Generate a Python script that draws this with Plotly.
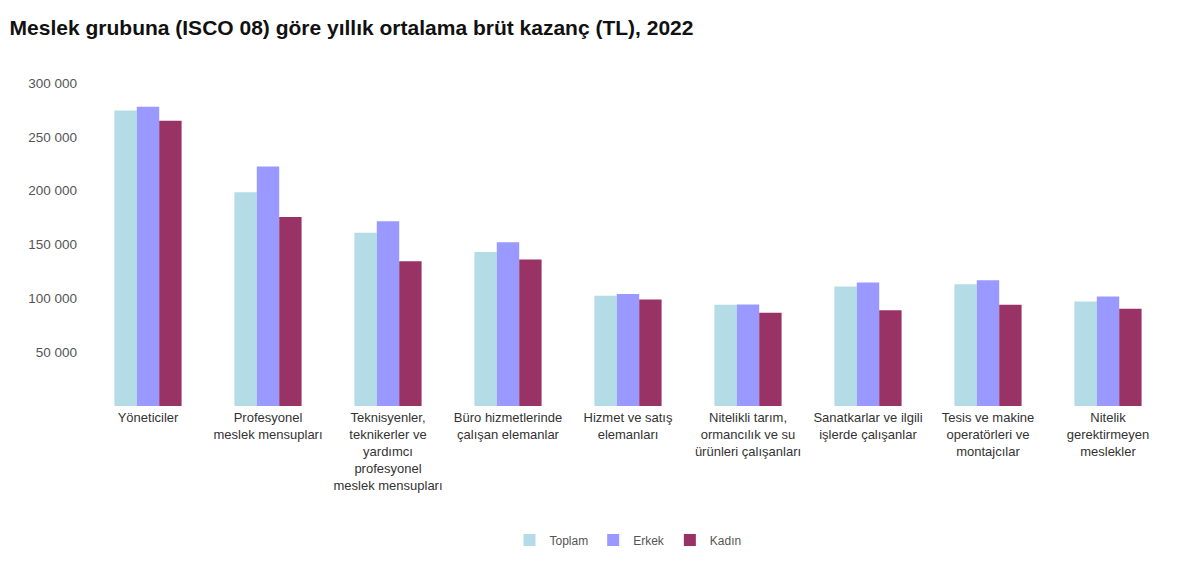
import plotly.graph_objects as go

categories = [
    "Yöneticiler",
    "Profesyonel<br>meslek mensupları",
    "Teknisyenler,<br>teknikerler ve<br>yardımcı<br>profesyonel<br>meslek mensupları",
    "Büro hizmetlerinde<br>çalışan elemanlar",
    "Hizmet ve satış<br>elemanları",
    "Nitelikli tarım,<br>ormancılık ve su<br>ürünleri çalışanları",
    "Sanatkarlar ve ilgili<br>işlerde çalışanlar",
    "Tesis ve makine<br>operatörleri ve<br>montajcılar",
    "Nitelik<br>gerektirmeyen<br>meslekler",
]
toplam = [274500, 198500, 161000, 143000, 102500, 94000, 111000, 113000, 97000]
erkek = [278000, 222500, 171500, 152000, 104000, 94200, 114800, 116700, 101800]
kadin = [265000, 175500, 134500, 136000, 99000, 86700, 88900, 94000, 90400]
series_names = ["Toplam", "Erkek", "Kadın"]
colors = ["#b4dce6", "#9999ff", "#993366"]
ytick_vals = [50000, 100000, 150000, 200000, 250000, 300000]

fig = go.Figure()
for name, vals, col in zip(series_names, [toplam, erkek, kadin], colors):
    fig.add_trace(go.Bar(name=name, x=categories, y=vals, marker=dict(color=col, line=dict(width=0))))

fig.update_layout(
    width=1200, height=566,
    paper_bgcolor="white", plot_bgcolor="white",
    margin=dict(l=88, r=32, t=83, b=160),
    barmode="group", bargap=0.44, bargroupgap=0,
    separators=", ",
    font=dict(family="Liberation Sans, Arial, sans-serif", size=12, color="#555555"),
    title=dict(
        text="<b>Meslek grubuna (ISCO 08) göre yıllık ortalama brüt kazanç (TL), 2022</b>",
        x=0.008, xanchor="left", xref="container",
        y=1 - 28 / 566, yanchor="middle", yref="container",
        font=dict(family="Liberation Sans, Arial, sans-serif", size=21, color="#111111"),
    ),
    showlegend=True,
    legend=dict(
        orientation="h", x=0.5, xanchor="center", y=-0.415, yanchor="middle",
        font=dict(size=12, color="#555555"), itemwidth=30, traceorder="normal",
    ),
    xaxis=dict(showgrid=False, showline=False, ticks="", tickangle=0,
               ticklabelstandoff=2,
               tickfont=dict(size=13, color="#333333")),
    yaxis=dict(range=[0, 300000], showgrid=False, showline=False, zeroline=False,
               tickvals=ytick_vals, tickformat=",", ticks="", ticklabelstandoff=10,
               tickfont=dict(size=13.5, color="#555555")),
)

fig.write_html("out.html")
